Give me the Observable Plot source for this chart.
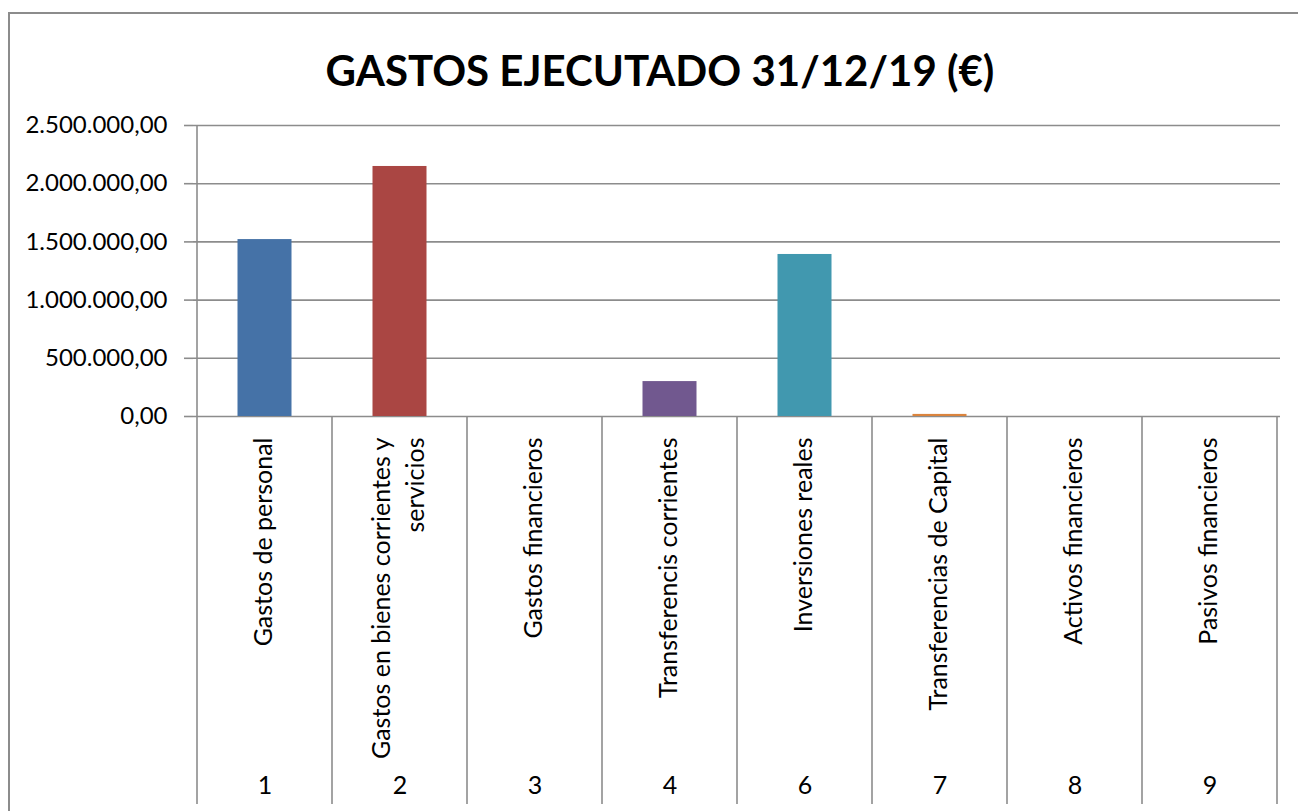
<!DOCTYPE html>
<html><head><meta charset="utf-8">
<script src="https://cdn.jsdelivr.net/npm/d3@7"></script>
<script src="https://cdn.jsdelivr.net/npm/@observablehq/plot@0.6"></script>
<style>
html,body{margin:0;padding:0;background:#fff;overflow:hidden}
#wrap{position:relative;width:1298px;height:811px;overflow:hidden;font-family:Lato,"Open Sans",sans-serif}
#border{position:absolute;left:8px;top:12px;width:1400px;height:900px;border:2px solid #8c8c8c;box-sizing:border-box}
#title{position:absolute;left:0;width:1320px;top:49px;text-align:center;font-size:42px;font-weight:bold;line-height:1;color:#000}
#chart{position:absolute;left:0;top:0}
</style></head><body>
<div id="wrap"><div id="border"></div><div id="title">GASTOS EJECUTADO 31/12/19 (€)</div><div id="chart"></div></div>
<script>
const codes = ["1","2","3","4","6","7","8","9"];
const names = [
  "Gastos de personal",
  "Gastos en bienes corrientes y\nservicios",
  "Gastos financieros",
  "Transferencis corrientes",
  "Inversiones reales",
  "Transferencias de Capital",
  "Activos financieros",
  "Pasivos financieros"
];
const values = [1520000, 2148000, 0, 300000, 1392000, 18000, 0, 0];
const yTicks = [0, 500000, 1000000, 1500000, 2000000, 2500000];
const palette = ["#4572A7","#AA4643","#89A54E","#71588F","#4198AF","#DB843D","#93A9CF","#D19392"];

const data = codes.map((c, i) => ({code: c, name: names[i], value: values[i]}));
const fmt = d3.formatLocale({decimal: ",", thousands: ".", grouping: [3], currency: ["", "€"]}).format(",.2f");
const grid = "#8c8c8c";

const chart = Plot.plot({
  width: 1298, height: 811,
  marginLeft: 193, marginRight: 18, marginTop: 125, marginBottom: 395,
  style: {fontFamily: "Lato, 'Open Sans', sans-serif", fontSize: "24px", color: "#000", background: "transparent"},
  x: {type: "band", domain: codes, padding: 0, axis: null},
  y: {domain: [0, 2500000], axis: null},
  color: {domain: codes, range: palette},
  marks: [
    Plot.gridY({ticks: yTicks, stroke: grid, strokeOpacity: 1, strokeWidth: 1.6}),
    Plot.axisY({ticks: yTicks, tickFormat: fmt, label: null, tickSize: 9, tickPadding: 17, stroke: grid, strokeWidth: 1.6, fill: "#000", fontSize: 24}),
    Plot.barY(data, {x: "code", y: "value", fill: "code", insetLeft: 40.5, insetRight: 40.5}),
    Plot.text(data, {x: "code", text: "name", frameAnchor: "bottom", dx: -4, dy: 21, rotate: -90, textAnchor: "end", lineAnchor: "middle", lineHeight: 1.36, fontSize: 25, fill: "#000"}),
    Plot.text(data, {x: "code", text: "code", frameAnchor: "bottom", dy: 377, fontSize: 25, fill: "#000"})
  ]
});

// category separators and the value axis line, placed with the plot's own scales
const xs = chart.scale("x"), ys = chart.scale("y");
const y0 = ys.apply(0), yTop = ys.apply(2500000);
const bounds = codes.map(c => xs.apply(c)).concat([xs.apply(codes[codes.length - 1]) + xs.bandwidth]);
const g = d3.select(chart).append("g").attr("stroke", grid).attr("stroke-width", 1.6);
bounds.forEach((bx, i) => {
  g.append("line").attr("x1", bx).attr("x2", bx).attr("y1", i === 0 ? yTop : y0).attr("y2", 804);
});

document.getElementById("chart").appendChild(chart);
</script>
</body></html>
